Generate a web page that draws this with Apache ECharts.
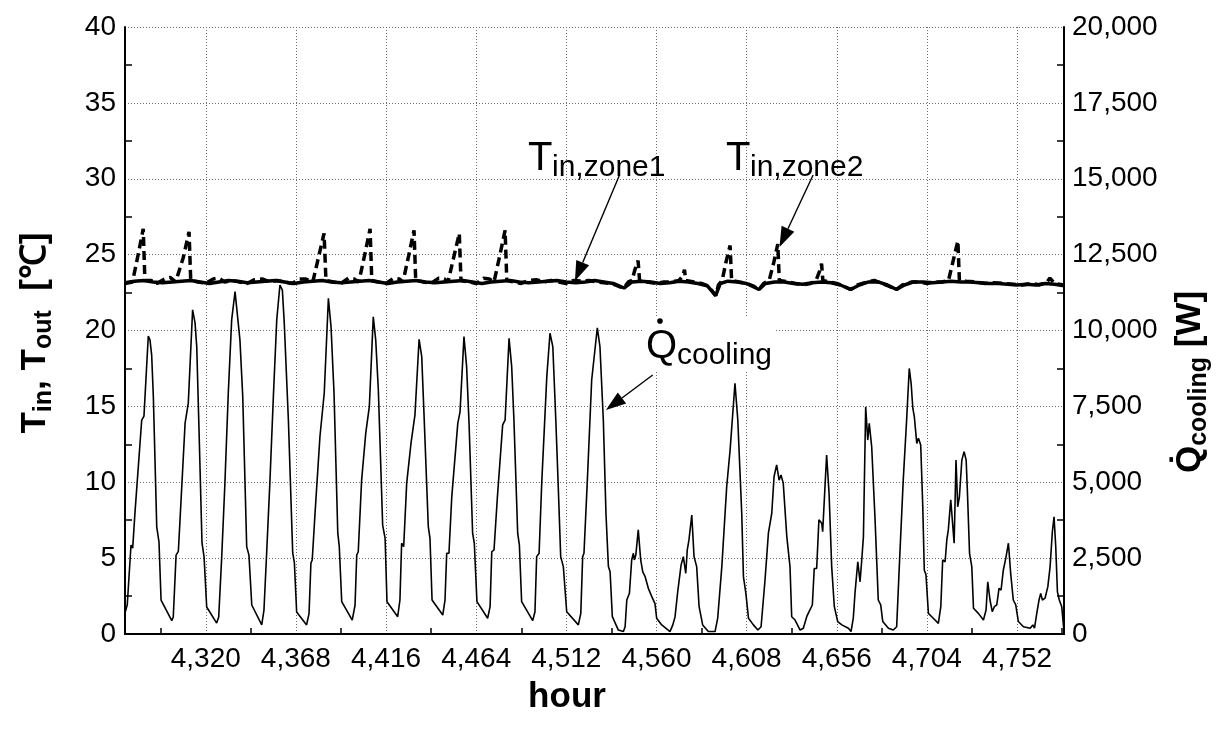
<!DOCTYPE html>
<html>
<head>
<meta charset="utf-8">
<script src="https://cdn.jsdelivr.net/npm/echarts@6/dist/echarts.min.js"></script>
<style>
html, body { margin: 0; padding: 0; background: #fff; }
#chart { width: 1227px; height: 738px; }
</style>
</head>
<body>
<div id="chart"></div>
<script>
// Hour-of-year axis: visible range, labelled hours and the small ticks between them
const hourMin = 4277;
const hourMax = 4777;
const hourLabels = [4320, 4368, 4416, 4464, 4512, 4560, 4608, 4656, 4704, 4752];
const hourMinorTicks = [4296, 4344, 4392, 4440, 4488, 4536, 4584, 4632, 4680, 4728, 4776];

// Cooling load [W] (right axis)
const coolingHours = [
  4277.0, 4278.2, 4280.2, 4281.1, 4282.3, 4285.9, 4287.1, 4289.4, 4290.3, 4291.2, 4292.1, 4293.9, 4295.1, 4296.2,
  4301.9, 4302.7, 4303.6, 4304.2, 4305.4, 4306.3, 4309.0, 4310.7, 4313.0, 4314.3, 4315.2, 4316.6, 4318.0, 4319.1, 4320.5,
  4325.8, 4326.9, 4328.5, 4330.2, 4332.0, 4333.8, 4335.6, 4336.5, 4338.2, 4339.7, 4341.8, 4343.0, 4344.5,
  4349.8, 4351.0, 4352.5, 4354.2, 4356.0, 4357.8, 4359.5, 4360.8, 4361.8, 4364.0, 4366.3, 4367.2, 4368.4,
  4373.7, 4375.0, 4376.0, 4376.7, 4378.2, 4380.8, 4383.1, 4385.3, 4386.7, 4388.3, 4390.3, 4391.1, 4392.4,
  4398.0, 4399.5, 4400.4, 4401.2, 4403.0, 4405.2, 4407.1, 4409.2, 4410.5, 4411.9, 4414.2, 4415.5, 4416.5,
  4422.2, 4423.4, 4424.3, 4425.4, 4427.0, 4429.3, 4431.4, 4433.6, 4435.0, 4436.2, 4438.5, 4439.4, 4440.5,
  4446.2, 4447.4, 4448.3, 4449.5, 4451.0, 4454.2, 4455.4, 4457.5, 4458.9, 4460.2, 4462.1, 4463.0, 4464.4,
  4470.1, 4471.4, 4472.3, 4473.5, 4475.3, 4478.1, 4479.4, 4481.5, 4482.9, 4484.1, 4486.1, 4487.0, 4488.2,
  4494.1, 4495.3, 4496.2, 4497.5, 4498.9, 4501.6, 4503.3, 4504.8, 4506.4, 4507.7, 4509.0, 4510.4, 4512.2,
  4518.4, 4519.7, 4520.7, 4521.4, 4523.2, 4525.5, 4528.5, 4529.9, 4531.7, 4533.1, 4534.4, 4535.3, 4536.5,
  4539.7, 4542.4, 4543.3, 4544.2, 4545.6, 4546.8, 4547.7, 4548.2, 4549.0, 4550.3, 4551.6, 4552.7, 4553.9,
  4555.7, 4557.5, 4559.2, 4560.1, 4562.8, 4567.2, 4568.7, 4569.9, 4571.3, 4573.1, 4574.3, 4575.6, 4576.4,
  4577.3, 4578.8, 4580.0, 4581.4, 4582.7, 4584.6, 4587.6, 4591.2, 4592.6, 4594.8, 4597.4, 4599.2, 4601.8,
  4603.3, 4605.4, 4606.3, 4607.6, 4609.0, 4611.6, 4614.0, 4615.7, 4617.8, 4619.6, 4621.4, 4622.6, 4624.0,
  4625.3, 4626.3, 4627.5, 4629.4, 4631.1, 4632.0, 4633.8, 4636.5, 4638.2, 4640.0, 4640.8, 4641.7, 4643.0,
  4644.0, 4645.3, 4646.5, 4648.0, 4648.5, 4650.6, 4651.9, 4653.3, 4654.7, 4656.5, 4658.7, 4662.2, 4663.6,
  4664.8, 4665.7, 4667.2, 4668.4, 4669.3, 4670.2, 4671.4, 4672.5, 4673.3, 4674.6, 4676.4, 4678.1, 4679.4,
  4680.5, 4683.5, 4686.1, 4687.9, 4689.3, 4691.4, 4693.2, 4694.6, 4695.6, 4696.5, 4697.3, 4698.6, 4699.5,
  4700.7, 4701.8, 4702.6, 4703.5, 4704.8, 4707.4, 4710.1, 4711.4, 4712.4, 4713.7, 4714.6, 4715.4, 4716.7,
  4718.5, 4719.5, 4720.4, 4721.3, 4722.6, 4723.8, 4724.9, 4725.6, 4726.7, 4727.9, 4728.8, 4731.4, 4734.1,
  4735.5, 4736.4, 4737.6, 4738.8, 4739.9, 4741.2, 4742.4, 4743.5, 4744.7, 4746.0, 4747.4, 4748.6, 4750.0,
  4751.3, 4752.7, 4755.4, 4759.0, 4760.4, 4761.3, 4762.5, 4763.7, 4764.6, 4765.5, 4766.9, 4768.4, 4769.6,
  4770.8, 4771.7, 4772.6, 4773.5, 4774.5, 4775.8, 4777.0
];
const coolingLoad = [
  690, 960, 2930, 2830, 3990, 7050, 7180, 9820, 9690, 9190, 7810, 3530, 3030, 1120,
  440, 560, 1780, 2600, 2720, 3760, 6950, 7610, 10680, 10250, 9470, 6290, 3000, 2540, 890,
  360, 560, 2540, 4970, 7940, 10350, 11280, 11240, 9690, 7820, 2880, 2600, 955,
  300, 790, 2770, 5070, 7820, 10350, 11500, 11330, 10250, 7050, 2670, 2340, 725,
  300, 680, 2340, 2440, 3990, 6500, 7940, 11060, 10130, 7940, 3330, 2880, 1065,
  460, 955, 2600, 2710, 5070, 6620, 7490, 10450, 9690, 8040, 3590, 3150, 1065,
  570, 1120, 2990, 2880, 4970, 6290, 7220, 9710, 9140, 7270, 3540, 3150, 1120,
  625, 1120, 2660, 2660, 4520, 6940, 7320, 9800, 8810, 6940, 3320, 2990, 1065,
  520, 900, 2710, 2770, 4520, 6890, 7050, 9740, 8810, 7050, 3320, 2930, 1065,
  440, 735, 2550, 2660, 4970, 8480, 9910, 9470, 7050, 4860, 2550, 2220, 735,
  300, 680, 2550, 2660, 5070, 8370, 10090, 9470, 7050, 3980, 2220, 2050, 570,
  130, 80, 240, 1120, 1340, 2440, 2660, 2440, 2600, 3430, 2440, 2050, 1900,
  1500, 1230, 1000, 520, 300, 80, 300, 570, 1390, 2270, 2550, 2000, 2770,
  3100, 3920, 2550, 2220, 900, 300, 80, 80, 520, 2220, 4860, 6060, 8260,
  7050, 3980, 1890, 1340, 520, 300, 130, 240, 1780, 3320, 3980, 5180, 5570,
  5070, 5240, 4970, 3210, 2220, 570, 460, 130, 190, 570, 680, 740, 955,
  2160, 2160, 3760, 3650, 3370, 5900, 4640, 2220, 900, 410, 300, 190, 80,
  520, 1340, 2380, 1720, 2440, 3210, 7490, 6390, 6940, 6170, 3760, 1120, 960,
  410, 190, 130, 240, 2220, 5070, 7050, 8750, 8260, 7440, 7160, 6280, 6450,
  6230, 4190, 2110, 1950, 680, 520, 350, 900, 2440, 2380, 3100, 3430, 4420,
  2990, 5730, 4190, 4520, 5730, 6010, 5730, 4640, 2660, 2220, 850, 680, 460,
  790, 1720, 1120, 735, 900, 960, 1500, 1450, 2110, 2490, 2990, 2000, 1120,
  960, 410, 240, 190, 300, 190, 680, 1120, 1340, 1120, 1180, 1560, 2220,
  3370, 3860, 2880, 1390, 1120, 900, 80
];

// Indoor air temperature, zone 1 [°C] (left axis)
const zone1Hours = [
  4277, 4282, 4287, 4292, 4297, 4302, 4307, 4312, 4317, 4322, 4327, 4332, 4337, 4342, 4347, 4352, 4357, 4362,
  4367, 4372, 4377, 4382, 4387, 4392, 4397, 4402, 4407, 4412, 4417, 4422, 4427, 4432, 4437, 4442, 4447, 4452,
  4457, 4462, 4467, 4472, 4477, 4482, 4487, 4492, 4497, 4502, 4507, 4512, 4517, 4522, 4527, 4532, 4537, 4542.7,
  4547, 4552, 4557, 4562, 4567, 4572, 4577, 4582, 4587, 4591.5, 4594, 4598, 4603, 4608, 4614.6, 4618, 4623, 4628,
  4633, 4638, 4643, 4648, 4653, 4658, 4663.4, 4668, 4673, 4678, 4683, 4687.8, 4692, 4697, 4702, 4707, 4712, 4717,
  4722, 4727, 4732, 4737, 4742, 4747, 4752, 4757, 4762, 4767, 4772, 4777
];
const zone1Temp = [
  23.15, 23.25, 23.3, 23.2, 23.15, 23.2, 23.25, 23.3, 23.2, 23.1, 23.2, 23.3, 23.25, 23.15, 23.2, 23.25, 23.3, 23.2,
  23.1, 23.2, 23.25, 23.3, 23.2, 23.15, 23.2, 23.25, 23.3, 23.2, 23.1, 23.2, 23.25, 23.3, 23.2, 23.15, 23.2, 23.25,
  23.3, 23.2, 23.1, 23.2, 23.25, 23.3, 23.2, 23.15, 23.2, 23.25, 23.3, 23.2, 23.15, 23.2, 23.3, 23.2, 23.1, 22.8,
  23.2, 23.25, 23.2, 23.1, 23.15, 23.25, 23.2, 23.1, 22.95, 22.3, 23.1, 23.25, 23.2, 23.1, 22.7, 23.1, 23.2, 23.2,
  23.1, 23.05, 23.15, 23.2, 23.15, 23.0, 22.7, 23.0, 23.2, 23.2, 23.0, 22.7, 23.0, 23.2, 23.2, 23.15, 23.2, 23.25,
  23.2, 23.2, 23.15, 23.1, 23.1, 23.05, 23.0, 23.05, 23.0, 23.1, 23.05, 22.95
];

// Indoor air temperature, zone 2 [°C] (left axis)
const zone2Hours = [
  4277, 4281, 4284, 4286.7, 4287.6, 4291, 4294, 4298, 4301, 4304, 4308, 4311.1, 4312, 4316, 4320, 4324, 4327,
  4330, 4334, 4338, 4342, 4346, 4350, 4354, 4358, 4362, 4366, 4370, 4373, 4377, 4380, 4383, 4384, 4388, 4392,
  4396, 4399, 4401.5, 4404.5, 4407.5, 4408.4, 4412, 4416, 4420, 4423, 4425, 4428, 4430.9, 4431.8, 4436, 4440,
  4444, 4447, 4449, 4452, 4455, 4455.9, 4460, 4464, 4468, 4471, 4473.5, 4476.5, 4479.4, 4480.3, 4484, 4488,
  4492, 4496, 4500, 4504, 4508, 4512, 4516, 4520, 4524, 4528, 4532, 4536, 4540, 4542.7, 4545, 4547, 4548.5,
  4550.2, 4551, 4555, 4560, 4564, 4568, 4572, 4574, 4574.9, 4575.6, 4580, 4584, 4588, 4591.5, 4593, 4595, 4597,
  4599.2, 4600, 4604, 4608, 4612, 4614.6, 4617, 4620, 4622.5, 4624.6, 4625.4, 4630, 4634, 4638, 4642, 4645,
  4646.8, 4647.9, 4648.6, 4652, 4656, 4660, 4663.4, 4667, 4672, 4676, 4680, 4684, 4687.8, 4691, 4696, 4700,
  4704, 4708, 4712, 4715.5, 4718, 4720.5, 4721.3, 4725, 4730, 4735, 4740, 4745, 4750, 4755, 4760, 4764, 4768,
  4769.5, 4772, 4777
];
const zone2Temp = [
  23.1, 23.2, 25.0, 26.7, 23.3, 23.3, 23.1, 23.4, 23.5, 23.2, 24.8, 26.5, 23.3, 23.2, 23.1, 23.4, 23.45,
  23.2, 23.3, 23.2, 23.1, 23.35, 23.4, 23.2, 23.3, 23.2, 23.1, 23.4, 23.4, 23.2, 24.8, 26.4, 23.3, 23.2, 23.1,
  23.45, 23.4, 23.2, 24.9, 26.7, 23.3, 23.2, 23.1, 23.45, 23.4, 23.2, 24.9, 26.6, 23.3, 23.2, 23.1,
  23.45, 23.4, 23.2, 24.8, 26.4, 23.3, 23.2, 23.1, 23.45, 23.4, 23.2, 24.9, 26.6, 23.3, 23.2, 23.1,
  23.3, 23.35, 23.2, 23.3, 23.2, 23.1, 23.3, 23.25, 23.3, 23.2, 23.15, 23.1, 22.9, 22.8, 23.2, 23.3, 24.0,
  24.6, 23.3, 23.2, 23.1, 23.2, 23.2, 23.3, 23.6, 24.0, 23.3, 23.2, 23.1, 22.9, 22.3, 23.0, 23.3, 24.5,
  25.6, 23.3, 23.2, 23.1, 22.9, 22.7, 23.1, 23.3, 24.5, 25.7, 23.3, 23.2, 23.1, 23.0, 23.1, 23.3,
  23.9, 24.4, 23.3, 23.2, 23.1, 22.9, 22.7, 23.0, 23.2, 23.3, 23.1, 22.9, 22.7, 23.0, 23.2, 23.2,
  23.1, 23.2, 23.2, 23.3, 24.6, 25.9, 23.3, 23.25, 23.2, 23.1, 23.15, 23.1, 23.05, 23.0, 23.1, 23.0, 23.2,
  23.45, 23.1, 23.0
];

const zip = (xs, ys) => xs.map((x, i) => [x, ys[i]]);
const withCommas = v => String(Math.round(v)).replace(/\B(?=(\d{3})+(?!\d))/g, ',');

const FONT = '"Liberation Sans", Arial, sans-serif';
const GRID_DOTS = { color: '#6e6e6e', width: 1, type: [1, 2] };
const AXIS_LINE = { show: true, lineStyle: { color: '#000', width: 2 } };

const chart = echarts.init(document.getElementById('chart'), null, { renderer: 'canvas' });

chart.setOption({
  animation: false,
  backgroundColor: '#fff',
  grid: { left: 125, top: 27, width: 939, height: 607, containLabel: false },
  xAxis: [
    {
      type: 'value', min: hourMin, max: hourMax, position: 'bottom',
      axisLine: AXIS_LINE,
      axisTick: { show: true, inside: true, length: 6, customValues: hourMinorTicks,
                  lineStyle: { color: '#000', width: 1.5 } },
      axisLabel: { customValues: hourLabels, formatter: withCommas, color: '#000',
                   fontSize: 28, fontFamily: FONT, margin: 11 },
      splitLine: { show: false }
    },
    {
      // grid lines at the labelled hours
      type: 'value', min: hourMin, max: hourMax, position: 'bottom',
      axisLine: { show: false },
      axisTick: { show: false, customValues: hourLabels },
      axisLabel: { show: false },
      splitLine: { show: true, lineStyle: GRID_DOTS }
    }
  ],
  yAxis: [
    {
      type: 'value', min: 0, max: 40, interval: 5, position: 'left',
      axisLine: AXIS_LINE,
      axisTick: { show: false, inside: true },
      minorTick: { show: true, splitNumber: 2, length: 7, lineStyle: { color: '#000', width: 1.5 } },
      axisLabel: { color: '#000', fontSize: 28, fontFamily: FONT, margin: 9 },
      splitLine: { show: true, lineStyle: GRID_DOTS }
    },
    {
      type: 'value', min: 0, max: 20000, interval: 2500, position: 'right',
      axisLine: AXIS_LINE,
      axisTick: { show: false, inside: true },
      minorTick: { show: true, splitNumber: 2, length: 7, lineStyle: { color: '#000', width: 1.5 } },
      axisLabel: { color: '#000', fontSize: 28, fontFamily: FONT, margin: 8, formatter: withCommas },
      splitLine: { show: false }
    }
  ],
  series: [
    {
      name: 'Q_cooling', type: 'line', xAxisIndex: 0, yAxisIndex: 1,
      data: zip(coolingHours, coolingLoad), showSymbol: false, smooth: false,
      lineStyle: { color: '#000', width: 1.6 }, z: 3
    },
    {
      name: 'T_in,zone1', type: 'line', xAxisIndex: 0, yAxisIndex: 0,
      data: zip(zone1Hours, zone1Temp), showSymbol: false,
      lineStyle: { color: '#000', width: 3.5 }, z: 4
    },
    {
      name: 'T_in,zone2', type: 'line', xAxisIndex: 0, yAxisIndex: 0,
      data: zip(zone2Hours, zone2Temp), showSymbol: false,
      lineStyle: { color: '#000', width: 3.5, type: [9, 5], cap: 'butt' }, z: 5
    }
  ]
});

// ---- annotations: curve labels with leader arrows, placed in data coordinates ----
const toPx = (h, t) => chart.convertToPixel({ xAxisIndex: 0, yAxisIndex: 0 }, [h, t]);

const arrowDefs = [
  { from: [4540.1, 30.18], to: [4516.6, 23.26] },  // zone 1
  { from: [4643.4, 30.25], to: [4625.5, 25.51] },  // zone 2
  { from: [4558.0, 17.07], to: [4533.1, 14.76] }   // cooling load
];

const labelDefs = [
  { at: [4491.6, 30.6], main: 'T', sub: 'in,zone1', box: false },
  { at: [4597.0, 30.6], main: 'T', sub: 'in,zone2', box: false },
  { at: [4554.4, 18.19], main: 'Q', sub: 'cooling', box: true, dot: true }
];

const graphics = [];

labelDefs.forEach(l => {
  const [x, y] = toPx(l.at[0], l.at[1]);
  const mainW = l.main === 'Q' ? 31 : 24;
  if (l.box) {
    graphics.push({ type: 'rect', shape: { x: x - 4, y: y - 40, width: 134, height: 54 },
                    style: { fill: '#fff' }, z: 20 });
  }
  graphics.push({ type: 'text', x: x, y: y + 9, z: 21,
                  style: { text: l.main, font: '40px ' + FONT, fill: '#000',
                           textAlign: 'left', textVerticalAlign: 'bottom', verticalAlign: 'bottom' } });
  graphics.push({ type: 'text', x: x + mainW, y: y + 13, z: 21,
                  style: { text: l.sub, font: '30px ' + FONT, fill: '#000',
                           textAlign: 'left', textVerticalAlign: 'bottom', verticalAlign: 'bottom' } });
  if (l.dot) {
    graphics.push({ type: 'circle', shape: { cx: x + 14, cy: y - 37, r: 2.8 },
                    style: { fill: '#000' }, z: 21 });
  }
});

arrowDefs.forEach(a => {
  const [x1, y1] = toPx(a.from[0], a.from[1]);
  const [x2, y2] = toPx(a.to[0], a.to[1]);
  const len = Math.hypot(x2 - x1, y2 - y1);
  const ux = (x2 - x1) / len, uy = (y2 - y1) / len;
  const headL = 20, headW = 7;
  const bx = x2 - ux * headL, by = y2 - uy * headL;
  graphics.push({ type: 'line', shape: { x1, y1, x2: bx, y2: by },
                  style: { stroke: '#000', lineWidth: 1.4 }, z: 22 });
  graphics.push({ type: 'polygon', z: 22,
                  shape: { points: [[x2, y2], [bx - uy * headW, by + ux * headW], [bx + uy * headW, by - ux * headW]] },
                  style: { fill: '#000' } });
});

// axis titles
const titleRich = {
  m: { fontFamily: FONT, fontWeight: 'bold', fontSize: 35, fill: '#000', color: '#000' },
  s: { fontFamily: FONT, fontWeight: 'bold', fontSize: 25, fill: '#000', color: '#000', padding: [18, 0, 0, 0] }
};
graphics.push({
  type: 'text', x: 35, y: 333, rotation: Math.PI / 2, z: 30,
  style: {
    text: '{m|T}{s|in}{m|, T}{s|out}{m|  [\u2103]}',
    textAlign: 'center', textVerticalAlign: 'middle', align: 'center', verticalAlign: 'middle',
    rich: titleRich
  }
});
graphics.push({
  type: 'text', x: 1190, y: 382, rotation: Math.PI / 2, z: 30,
  style: {
    text: '{m|Q\u0307}{s|cooling}{m| [W]}',
    textAlign: 'center', textVerticalAlign: 'middle', align: 'center', verticalAlign: 'middle',
    rich: titleRich
  }
});
graphics.push({
  type: 'text', x: 567, y: 697, z: 30,
  style: { text: 'hour', font: 'bold 35px ' + FONT, fill: '#000',
           textAlign: 'center', textVerticalAlign: 'middle', align: 'center', verticalAlign: 'middle' }
});

chart.setOption({ graphic: graphics });
</script>
</body>
</html>
